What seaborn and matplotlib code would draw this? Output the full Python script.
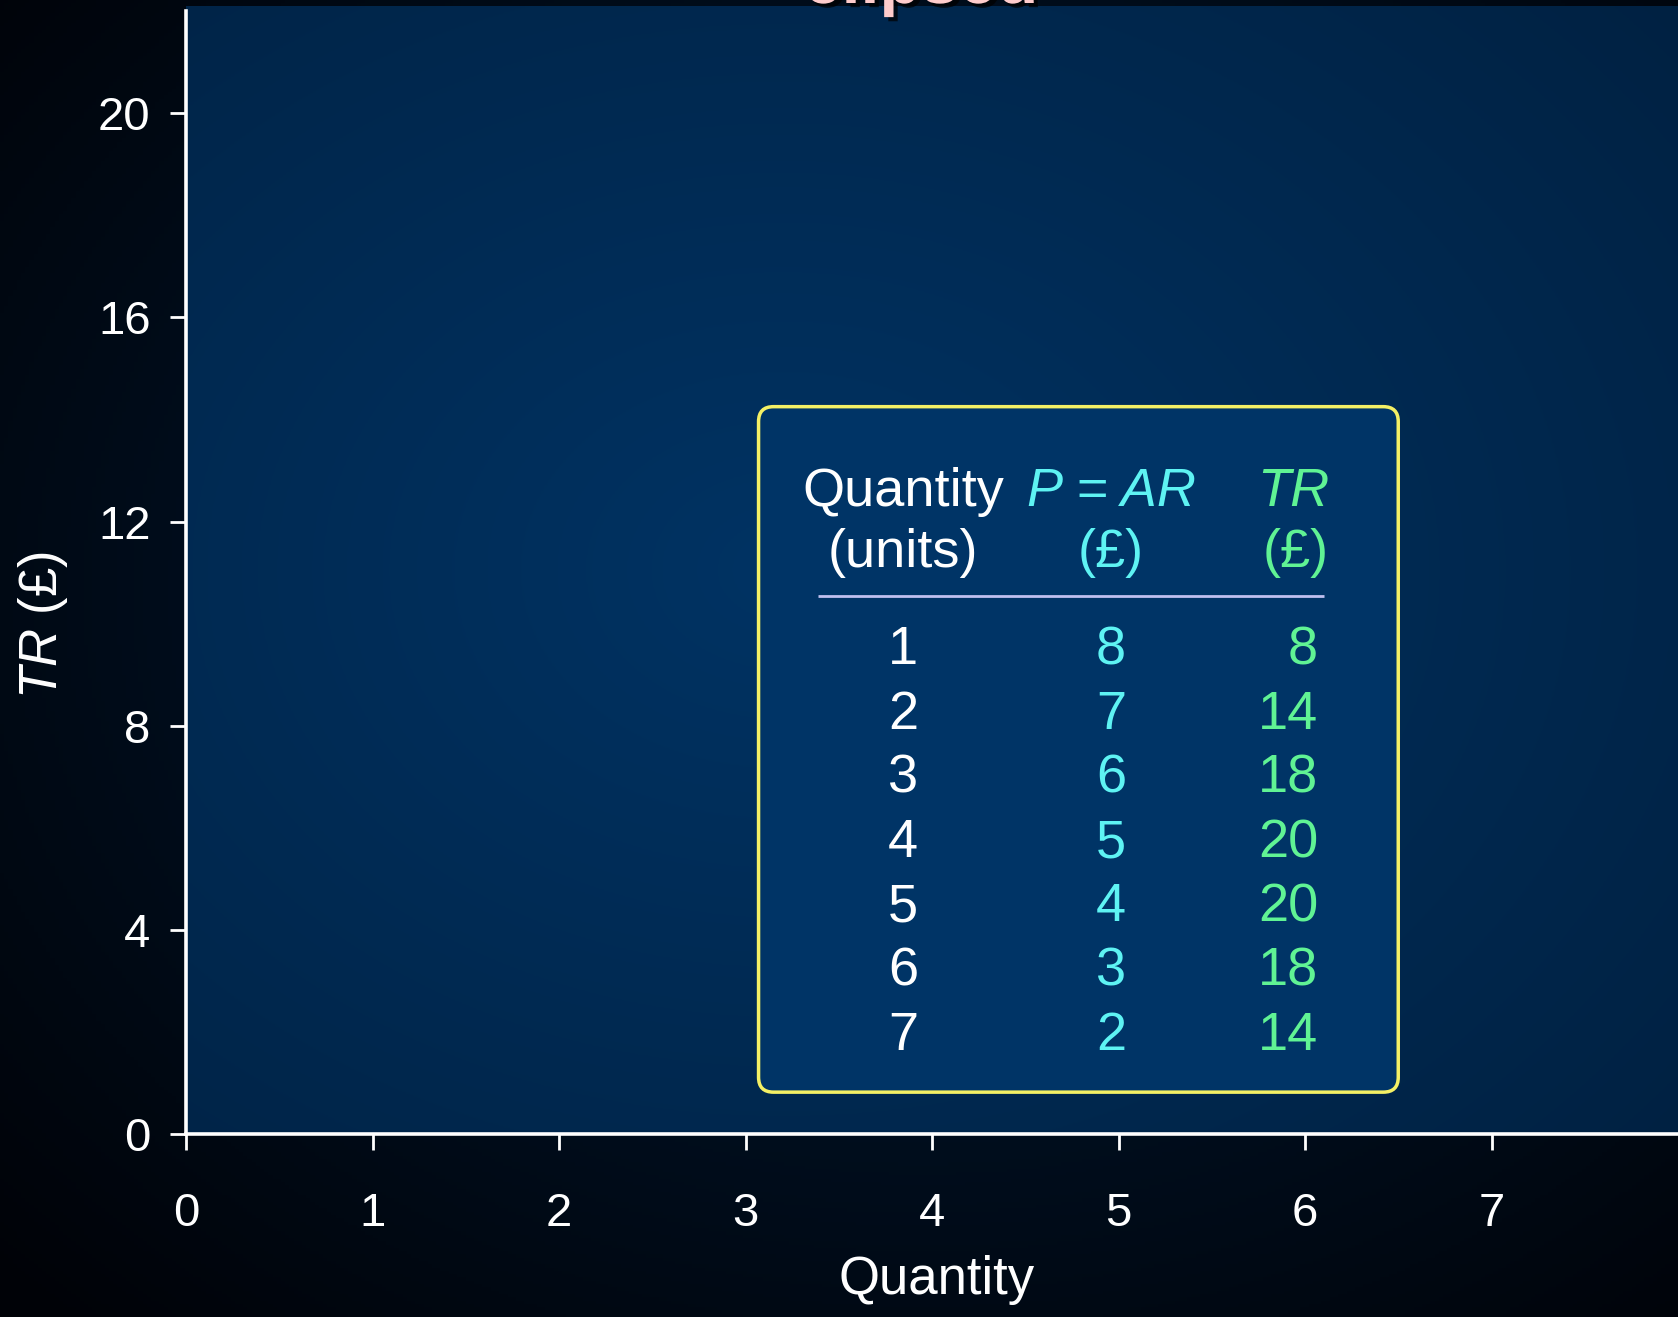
import numpy as np
import matplotlib
matplotlib.use("Agg")
import matplotlib.pyplot as plt
import matplotlib.patheffects as pe
from matplotlib.patches import FancyBboxPatch
import seaborn as sns

# ── data: demand schedule / total revenue table ──
quantity = [1, 2, 3, 4, 5, 6, 7]
price_ar = [8, 7, 6, 5, 4, 3, 2]
total_rev = [8, 14, 18, 20, 20, 18, 14]
x_ticks = [0, 1, 2, 3, 4, 5, 6, 7]
y_ticks = [0, 4, 8, 12, 16, 20]

sns.set_theme(style="ticks")
plt.rcParams['font.family'] = ['Liberation Sans', 'DejaVu Sans']
plt.rcParams['mathtext.fontset'] = 'custom'
plt.rcParams['mathtext.it'] = 'Liberation Sans:italic'
plt.rcParams['mathtext.rm'] = 'Liberation Sans'

CYAN = '#5ef3f3'
GREEN = '#60f394'
YELLOW = '#f4f065'


def radial(cx, cy, sx, sy, c_in, c_out, n=400):
    yy, xx = np.mgrid[0:1:n * 1j, 0:1:n * 1j]
    t = np.clip(np.sqrt(((xx - cx) / sx) ** 2 + ((yy - cy) / sy) ** 2), 0, 1)[..., None]
    return np.array(c_in) * (1 - t) + np.array(c_out) * t


fig = plt.figure(figsize=(16.78, 13.17), dpi=100)

# dark slide background
bg = fig.add_axes([0, 0, 1, 1], zorder=-10)
bg.axis('off')
bg.imshow(radial(0.55, 0.45, 0.75, 0.75, (0.0, 0.11, 0.22), (0.0, 0.01, 0.03)),
          extent=(0, 1, 0, 1), aspect='auto')

# plot area
ax = fig.add_axes([186 / 1678, 1 - 1134 / 1317, 1 - 186 / 1678, (1134 - 6) / 1317])
ax.set_facecolor('none')
ax.imshow(radial(0.4, 0.5, 0.9, 0.9, (0.0, 0.20, 0.39), (0.0, 0.12, 0.24)),
          extent=(0, 1, 0, 1), transform=ax.transAxes, aspect='auto', zorder=0)
ax.set_xlim(0, 8)
ax.set_ylim(0, 22.1)
ax.set_xticks(x_ticks)
ax.set_yticks(y_ticks)
sns.despine(ax=ax)
ax.spines['left'].set_bounds(0, 22)
for s in ('left', 'bottom'):
    ax.spines[s].set_color('white')
    ax.spines[s].set_linewidth(2.6)
ax.tick_params(colors='white', direction='out', length=11.5, width=2)
ax.tick_params(axis='x', pad=30)
ax.tick_params(axis='y', pad=14)
for lab in ax.get_xticklabels() + ax.get_yticklabels():
    lab.set_fontsize(34)
    lab.set_color('white')

ax.set_xlabel('Quantity', fontsize=38, color='white', va='center')
ax.xaxis.set_label_coords(0.503, -(1280 - 1134) / 1128)
ax.set_ylabel('$TR$ (£)', fontsize=38, color='white', va='center')
ax.yaxis.set_label_coords((43 - 186) / 1492, (1134 - 625) / 1128)

# table box
box = FancyBboxPatch((3.07, 0.82), 6.50 - 3.07, 14.25 - 0.82,
                     boxstyle="round,pad=0,rounding_size=0.08", mutation_aspect=3.66,
                     facecolor='#003466', edgecolor=YELLOW, linewidth=2.5, zorder=3)
ax.add_patch(box)

col_q, col_p, col_tr = 3.845, 4.96, 6.07
fs = 39
ax.text(col_q, 12.31, 'Quantity', color='white', fontsize=fs, ha='center', va='baseline', zorder=4)
ax.text(col_q, 11.10, '(units)', color='white', fontsize=fs, ha='center', va='baseline', zorder=4)
ax.text(col_p, 12.31, 'P = AR', color=CYAN, fontsize=fs, style='italic', ha='center', va='baseline', zorder=4)
ax.text(col_p, 11.10, '(£)', color=CYAN, fontsize=fs, ha='center', va='baseline', zorder=4)
ax.text(6.13, 12.31, 'TR', color=GREEN, fontsize=fs, style='italic', ha='right', va='baseline', zorder=4)
ax.text(5.95, 11.10, '(£)', color=GREEN, fontsize=fs, ha='center', va='baseline', zorder=4)
ax.hlines(10.55, 3.39, 6.10, color='#c0c0f0', linewidth=2, zorder=4)

row_y0, row_step = 9.20, 1.259
for i, (q, p, tr) in enumerate(zip(quantity, price_ar, total_rev)):
    y = row_y0 - i * row_step
    ax.text(col_q, y, str(q), color='white', fontsize=fs, ha='center', va='baseline', zorder=4)
    ax.text(col_p, y, str(p), color=CYAN, fontsize=fs, ha='center', va='baseline', zorder=4)
    ax.text(col_tr, y, str(tr), color=GREEN, fontsize=fs, ha='right', va='baseline', zorder=4)

# slide title, mostly cropped off the top (as in the source slide)
fig.text(921 / 1678, 1 - 3 / 1317, 'clipsed', ha='center', va='baseline', fontsize=49,
         fontweight='bold', color='#ffcccc', zorder=5,
         path_effects=[pe.withSimplePatchShadow(offset=(3, -3), shadow_rgbFace='black', alpha=0.7)])

fig.savefig('out.png', dpi=100)
